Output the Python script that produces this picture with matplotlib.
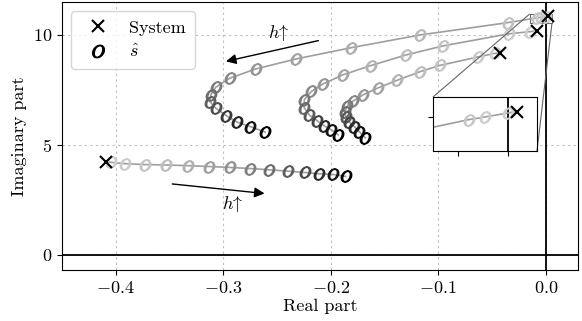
import numpy as np
import matplotlib
matplotlib.use("Agg")
import matplotlib.pyplot as plt
from mpl_toolkits.axes_grid1.inset_locator import mark_inset

plt.rcParams['font.family'] = 'serif'
plt.rcParams['font.serif'] = ['cmr10']
plt.rcParams['mathtext.fontset'] = 'cm'
plt.rcParams['axes.formatter.use_mathtext'] = True
plt.rcParams['font.size'] = 13

# system poles
pole_re = [0.0017, -0.0077, -0.043, -0.409]
pole_im = [10.84, 10.18, 9.17, 4.23]

# estimated poles s_hat for increasing h (one list per pole)
sA_re = [-0.0001, -0.0046, -0.0079, -0.0354, -0.1168, -0.181, -0.232, -0.270, -0.294,
         -0.307, -0.3116, -0.3125, -0.307, -0.297, -0.287, -0.275, -0.261]
sA_im = [10.83, 10.80, 10.78, 10.56, 10.0, 9.42, 8.91, 8.45, 8.03,
         7.62, 7.27, 6.97, 6.67, 6.32, 6.03, 5.83, 5.58]

sB_re = [-0.0149, -0.0345, -0.0957, -0.130, -0.163, -0.189, -0.2075, -0.218,
         -0.2246, -0.2246, -0.220, -0.2125, -0.206, -0.1994, -0.193]
sB_im = [10.15, 10.05, 9.5, 9.09, 8.6, 8.18, 7.76, 7.43,
         7.05, 6.68, 6.36, 6.09, 5.86, 5.68, 5.45]

sC_re = [-0.0475, -0.063, -0.0988, -0.1174, -0.138, -0.156, -0.170, -0.179, -0.1845,
         -0.187, -0.186, -0.183, -0.178, -0.1733, -0.168]
sC_im = [9.16, 9.0, 8.61, 8.32, 7.94, 7.59, 7.27, 7.0, 6.77,
         6.5, 6.27, 6.05, 5.82, 5.59, 5.32]

sD_re = [-0.404, -0.391, -0.373, -0.353, -0.333, -0.313, -0.294, -0.275,
         -0.257, -0.240, -0.224, -0.211, -0.198, -0.186]
sD_im = [4.2, 4.14, 4.10, 4.08, 4.05, 4.01, 3.97, 3.92,
         3.86, 3.80, 3.74, 3.68, 3.65, 3.56]

traj = [(sA_re, sA_im), (sB_re, sB_im), (sC_re, sC_im), (sD_re, sD_im)]

fig = plt.figure(figsize=(5.82, 3.21), dpi=100)
ax = fig.add_axes([62/582, 1-270/321, 516/582, 268/321])
axins = ax.inset_axes([(433-62)/516, (270-151)/268, 104/516, 54/268])


def draw(a, ms):
    for k, (re, im) in enumerate(traj):
        a.plot([pole_re[k]] + re, [pole_im[k]] + im, c='0.62', lw=1.2, zorder=2)
        t = np.linspace(0, 1, len(re))
        cols = plt.cm.Greys(0.3 + 0.7*t**1.5)
        for x, y, c in zip(re, im, cols):
            a.plot(x, y, ls='none', marker='$O$', ms=ms, c=c, zorder=3)
    a.plot(pole_re, pole_im, ls='none', marker='x', ms=8, mew=1.5, c='k', zorder=4)
    a.axhline(0, c='k', lw=1.3, zorder=1.8)
    a.axvline(0, c='k', lw=1.3, zorder=1.8)


draw(ax, 8)
ax.plot([], [], ls='none', marker='x', ms=8, mew=1.5, c='k', label='System')
ax.plot([], [], ls='none', marker='$O$', ms=9, c='k', label=r'$\hat{s}$')

ax.set_xlim(-0.45, 0.03)
ax.set_ylim(-0.7, 11.5)
ax.set_xticks([-0.4, -0.3, -0.2, -0.1, 0.0])
ax.set_yticks([0, 5, 10])
ax.grid(True, ls=(0, (2, 3)), c='0.75', lw=0.8)
ax.set_xlabel('Real part', labelpad=2)
ax.set_ylabel('Imaginary part')
ax.legend(loc='upper left', handletextpad=0.7, borderpad=0.5, labelspacing=0.4)

ax.annotate('', xy=(-0.300, 8.77), xytext=(-0.209, 9.77),
            arrowprops=dict(arrowstyle='-|>', color='k', lw=1, mutation_scale=15))
ax.text(-0.248, 10.1, r'$h\!\uparrow$', ha='center', va='center', fontsize=13)
ax.annotate('', xy=(-0.259, 2.77), xytext=(-0.350, 3.23),
            arrowprops=dict(arrowstyle='-|>', color='k', lw=1, mutation_scale=15))
ax.text(-0.291, 2.3, r'$h\!\uparrow$', ha='center', va='center', fontsize=13)

draw(axins, 8)
axins.set_xlim(-0.015, 0.0058)
axins.set_ylim(10.545, 10.95)
axins.set_xticks([-0.01, 0.0])
axins.set_yticks([10.8])
axins.set_xticklabels([])
axins.set_yticklabels([])
mark_inset(ax, axins, loc1=2, loc2=4, fc='none', ec='0.4', lw=0.8)

fig.savefig('out.png', dpi=100)
